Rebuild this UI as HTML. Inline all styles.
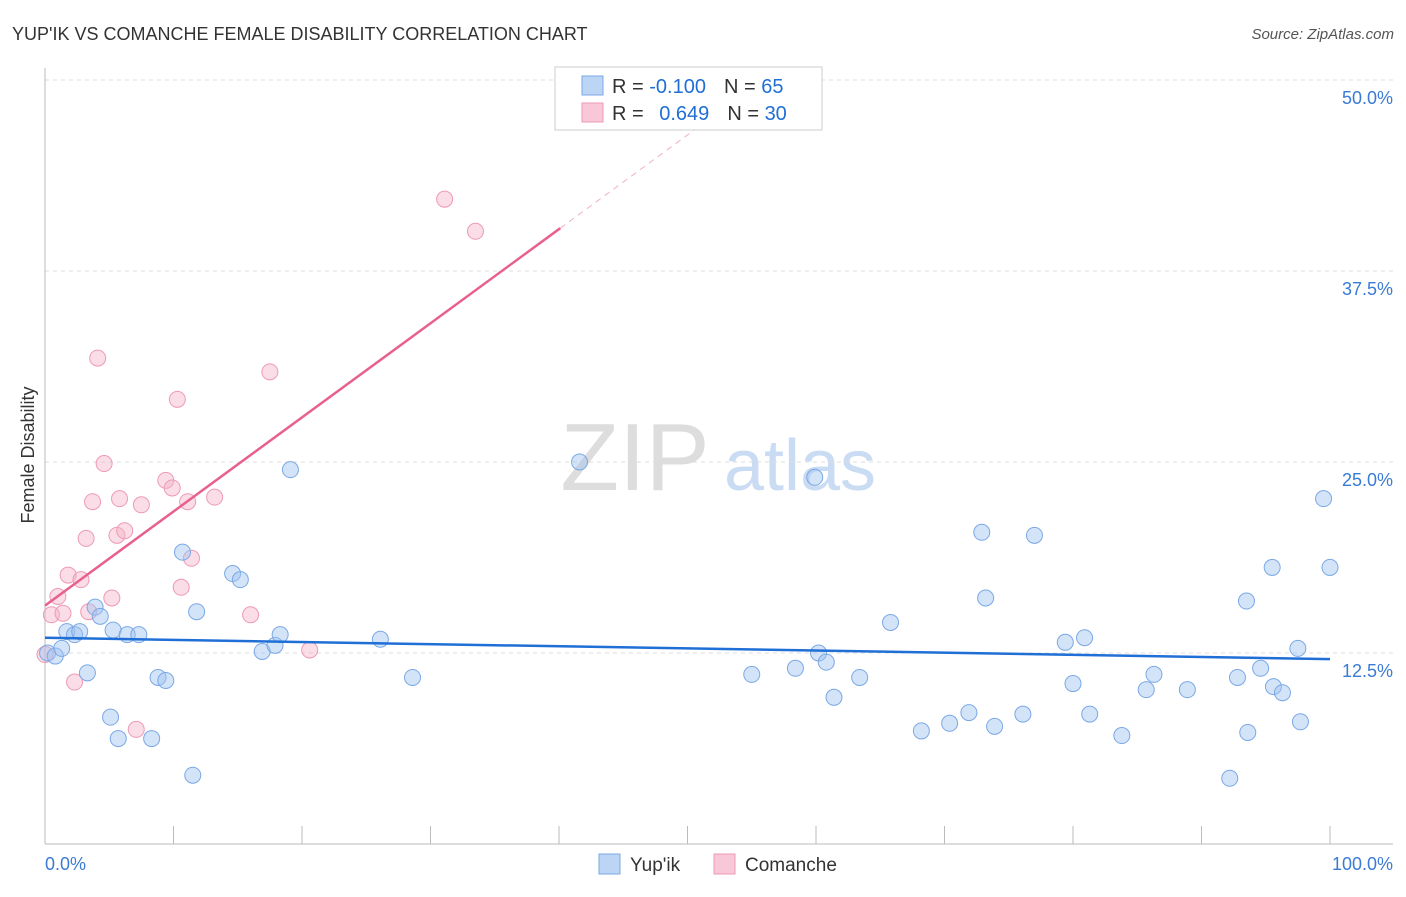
<!DOCTYPE html>
<html><head><meta charset="utf-8">
<style>
body{margin:0;background:#fff;font-family:"Liberation Sans",sans-serif;}
svg text{font-family:"Liberation Sans",sans-serif;}
</style></head><body>
<svg id="chart" width="1406" height="892" xmlns="http://www.w3.org/2000/svg">
<text x="12" y="40" font-size="18" fill="#333">YUP'IK VS COMANCHE FEMALE DISABILITY CORRELATION CHART</text>
<text x="1394" y="39" font-size="15" fill="#555" font-style="italic" text-anchor="end">Source: ZipAtlas.com</text>
<g>
<text x="635" y="490" font-size="96" fill="#ddd" font-family="Liberation Serif" text-anchor="middle">ZIP</text>
<text x="800" y="490" font-size="72" fill="#c9dcf3" text-anchor="middle">atlas</text>
</g>
<g id="grid"></g>
<g id="axes"></g>
<g id="marks"></g>
<text transform="translate(34,455) rotate(-90)" font-size="18" fill="#333" text-anchor="middle">Female Disability</text>
<g>
<rect x="555" y="67" width="267" height="63" fill="#fff" stroke="#ccc"/>
<rect x="582" y="76" width="21" height="19" fill="#bcd5f5" stroke="#7aa8e6"/>
<text x="612" y="93" font-size="20" fill="#333">R = <tspan fill="#1f6fd6">-0.100</tspan><tspan dx="18">N = </tspan><tspan fill="#1f6fd6">65</tspan></text>
<rect x="582" y="103" width="21" height="19" fill="#f8c8d8" stroke="#ee9ab5"/>
<text x="612" y="120" font-size="20" fill="#333">R = <tspan fill="#1f6fd6" dx="10">0.649</tspan><tspan dx="18">N = </tspan><tspan fill="#1f6fd6">30</tspan></text>
</g>
<g>
<rect x="599" y="854" width="21" height="20" fill="#bcd5f5" stroke="#7aa8e6"/>
<text x="630" y="871" font-size="19" fill="#333">Yup'ik</text>
<rect x="714" y="854" width="21" height="20" fill="#f8c8d8" stroke="#ee9ab5"/>
<text x="745" y="871" font-size="19" fill="#333">Comanche</text>
</g>
</svg>
<script>
const yTicks=[12.5,25,37.5,50];
const yTickLabels=["12.5%","25.0%","37.5%","50.0%"];
const xTickLabels=["0.0%","100.0%"];
const blueX=[0.2,0.8,1.3,1.7,2.3,2.7,3.3,3.9,4.3,5.1,5.3,5.7,6.4,7.3,8.3,8.8,9.4,10.7,11.5,11.8,14.6,15.2,16.9,17.9,18.3,19.1,26.1,28.6,41.6,55.0,58.4,59.9,60.2,60.8,61.4,63.4,65.8,68.2,70.4,71.9,72.9,73.2,73.9,76.1,77.0,79.4,80.0,80.9,81.3,83.8,85.7,86.3,88.9,92.2,92.8,93.5,93.6,94.6,95.5,95.6,96.3,97.5,97.7,99.5,100];
const blueY=[12.5,12.3,12.8,13.9,13.7,13.9,11.2,15.5,14.9,8.3,14.0,6.9,13.7,13.7,6.9,10.9,10.7,19.1,4.5,15.2,17.7,17.3,12.6,13.0,13.7,24.5,13.4,10.9,25.0,11.1,11.5,24.0,12.5,11.9,9.6,10.9,14.5,7.4,7.9,8.6,20.4,16.1,7.7,8.5,20.2,13.2,10.5,13.5,8.5,7.1,10.1,11.1,10.1,4.3,10.9,15.9,7.3,11.5,18.1,10.3,9.9,12.8,8.0,22.6,18.1];
const pinkX=[0,0.5,1.0,1.4,1.8,2.3,2.8,3.2,3.4,3.7,4.1,4.6,5.2,5.6,5.8,6.2,7.1,7.5,9.4,9.9,10.3,10.6,11.1,11.4,13.2,16.0,17.5,20.6,31.1,33.5];
const pinkY=[12.4,15.0,16.2,15.1,17.6,10.6,17.3,20.0,15.2,22.4,31.8,24.9,16.1,20.2,22.6,20.5,7.5,22.2,23.8,23.3,29.1,16.8,22.4,18.7,22.7,15.0,30.9,12.7,42.2,40.1];
const blueTrend=[13.5,12.1];
const pinkTrend=[15.6,0.616];
const NS="http://www.w3.org/2000/svg";
const X=v=>45+v*12.85, Y=v=>844-v*15.28;
function mk(tag,parent,attrs){const e=document.createElementNS(NS,tag);for(const k in attrs)e.setAttribute(k,attrs[k]);document.getElementById(parent).appendChild(e);return e;}
yTicks.forEach((t,i)=>{
 const l=mk('line','grid',{x1:45,x2:1393,y1:Y(t),y2:Y(t),stroke:'#ddd','stroke-dasharray':'4,4'});
 
 
 const tx=mk('text','grid',{x:1393,y:Y(t)+24,'font-size':18,fill:'#3a7bd5','text-anchor':'end'});
 tx.textContent=yTickLabels[i];
 
 
});
let ax=mk('line','axes',{x1:45,x2:1393,y1:844,y2:844,stroke:'#bbb'});


let ay=mk('line','axes',{x1:45,x2:45,y1:68,y2:844,stroke:'#bbb'});


for(let i=0;i<=10;i++){
 const t=mk('line','axes',{x1:X(i*10),x2:X(i*10),y1:826,y2:844,stroke:'#bbb'});
 
 
}
[[0,'start',45],[100,'end',1393]].forEach((d,i)=>{
 const t=mk('text','axes',{x:d[2],y:870,'font-size':18,fill:'#3a7bd5','text-anchor':d[1]});
 t.textContent=xTickLabels[i];
 
 
});
pinkX.forEach((x,i)=>{
 const c=mk('circle','marks',{cx:X(x),cy:Y(pinkY[i]),r:8,fill:'rgba(245,180,200,0.45)',stroke:'#ee9ab5','stroke-width':1});
 
 
});
blueX.forEach((x,i)=>{
 const c=mk('circle','marks',{cx:X(x),cy:Y(blueY[i]),r:8,fill:'rgba(160,196,240,0.45)',stroke:'#7aa8e6','stroke-width':1});
 
 
});
let bl=mk('line','marks',{x1:X(0),x2:X(100),y1:Y(blueTrend[0]),y2:Y(blueTrend[1]),stroke:'#1f6fd6','stroke-width':2.5});


let pl=mk('line','marks',{x1:X(0),x2:X(40.1),y1:Y(pinkTrend[0]),y2:Y(pinkTrend[0]+pinkTrend[1]*40.1),stroke:'#e8608e','stroke-width':2.5});


let pd=mk('line','marks',{x1:X(40.1),x2:X(52.5),y1:Y(pinkTrend[0]+pinkTrend[1]*40.1),y2:Y(pinkTrend[0]+pinkTrend[1]*52.5),stroke:'#f0b0c5','stroke-width':1,'stroke-dasharray':'6,5'});


</script>
</body></html>
